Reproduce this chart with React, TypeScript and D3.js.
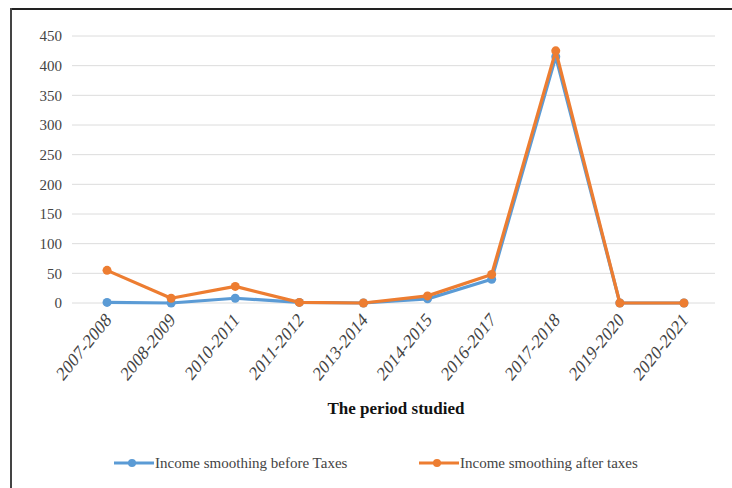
import React from "react";
import * as d3 from "d3";

const categories = ["2007-2008","2008-2009","2010-2011","2011-2012","2013-2014","2014-2015","2016-2017","2017-2018","2019-2020","2020-2021"];
const beforeTaxes = [1, 0, 8, 1, 0, 7, 40, 415, 0, 0];
const afterTaxes = [55, 8, 28, 1, 0, 12, 48, 425, 0, 0];
const yTicks = [0, 50, 100, 150, 200, 250, 300, 350, 400, 450];
const seriesNames = ["Income smoothing before Taxes", "Income smoothing after taxes"];
const colors = ["#5B9BD5", "#ED7D31"];

export default function App() {
  const W = 732, H = 488;
  const x = d3.scaleBand<string>().domain(categories).range([75, 716]);
  const cx = (c: string) => (x(c) as number) + x.bandwidth() / 2;
  const y = d3.scaleLinear().domain([0, 450]).range([303, 36]);
  const line = d3.line<number>().x((_, i) => cx(categories[i])).y((d) => y(d));
  const serif = "'Liberation Serif', 'Times New Roman', serif";
  const series = [beforeTaxes, afterTaxes];
  const legendX = [114, 419];
  return (
    <svg width={W} height={H} style={{ position: "absolute", left: 0, top: 0, background: "#fff" }} fontFamily={serif}>
      <rect x={0} y={0} width={W} height={H} fill="#fff" />
      <line x1={10} x2={W} y1={9} y2={9} stroke="#222" strokeWidth={2} />
      <line x1={11} x2={11} y1={8} y2={H} stroke="#444" strokeWidth={2} />
      {yTicks.map((t) => (
        <g key={t}>
          <line x1={72} x2={715} y1={y(t)} y2={y(t)} stroke="#dcdcdc" strokeWidth={1} />
          <text x={62} y={y(t)} dy="0.35em" textAnchor="end" fontSize={15} fill="#444">{t}</text>
        </g>
      ))}
      {series.map((s, i) => (
        <g key={i}>
          <path d={line(s) as string} fill="none" stroke={colors[i]} strokeWidth={3.2} strokeLinejoin="round" />
          {s.map((v, j) => (
            <circle key={j} cx={cx(categories[j])} cy={y(v)} r={4.5} fill={colors[i]} />
          ))}
        </g>
      ))}
      {categories.map((c) => (
        <text key={c} transform={`translate(${cx(c) + 5},${321}) scale(1,1.24) rotate(-45)`} textAnchor="end" fontSize={16} fill="#444">{c}</text>
      ))}
      <text x={396} y={414} textAnchor="middle" fontSize={17} fontWeight="bold" fill="#111">The period studied</text>
      {seriesNames.map((n, i) => (
        <g key={n}>
          <line x1={legendX[i]} x2={legendX[i] + 40} y1={463} y2={463} stroke={colors[i]} strokeWidth={3} />
          <circle cx={legendX[i] + 18} cy={463} r={4} fill={colors[i]} />
          <text x={legendX[i] + 41} y={463} dy="0.35em" fontSize={15} fill="#444">{n}</text>
        </g>
      ))}
    </svg>
  );
}
